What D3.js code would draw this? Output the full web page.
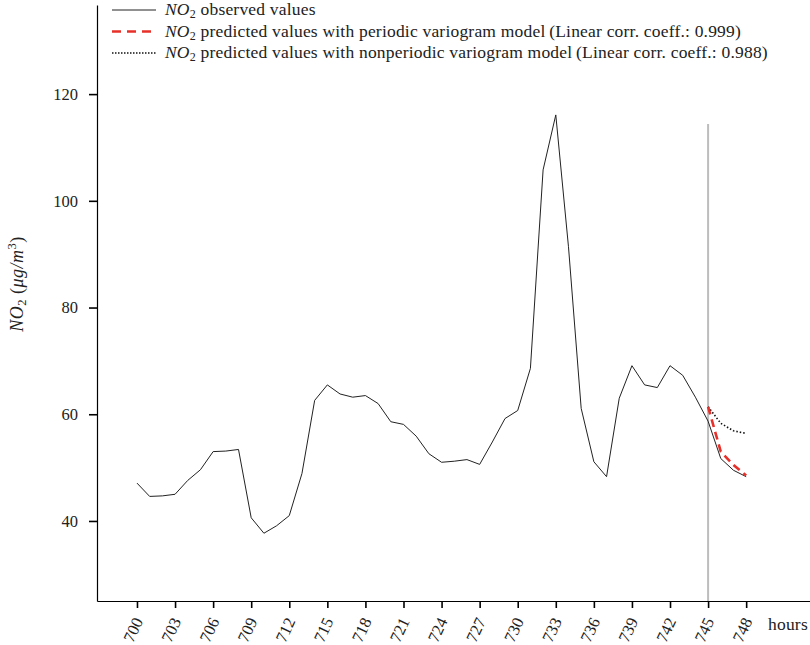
<!DOCTYPE html>
<html>
<head>
<meta charset="utf-8">
<script src="https://cdn.jsdelivr.net/npm/d3@7/dist/d3.min.js"></script>
<style>
  body { margin: 0; background: #fff; }
  svg { display: block; font-family: "Liberation Serif", "DejaVu Serif", serif; }
  svg text { font-family: "Liberation Serif", "DejaVu Serif", serif; }
</style>
</head>
<body>
<svg id="chart" width="810" height="645"></svg>
<script>
// Hourly NO2 concentrations (µg/m³)
const hours = d3.range(700, 749);
const observed = [
  47.1, 44.6, 44.7, 45.0, 47.6, 49.6, 53.0, 53.1, 53.4, 40.6,
  37.7, 39.1, 41.0, 48.9, 62.6, 65.5, 63.8, 63.2, 63.5, 62.0,
  58.6, 58.1, 55.9, 52.6, 51.0, 51.2, 51.5, 50.6, 54.8, 59.2,
  60.7, 68.6, 105.8, 116.1, 91.4, 61.1, 51.1, 48.3, 63.0, 69.1,
  65.5, 65.0, 69.1, 67.3, 63.2, 58.7, 51.7, 49.5, 48.3
];
const predHours = [745, 746, 747, 748];
const predPeriodic = [61.4, 53.0, 50.5, 48.5];
const predNonPeriodic = [61.4, 58.3, 56.9, 56.4];
const xTicks = d3.range(700, 749, 3);
const yTicks = [40, 60, 80, 100, 120];
const forecastStart = 745;
const markerTop = 114.4;

const svg = d3.select("#chart");
const x = d3.scaleLinear().domain([696.85, 753.03]).range([97, 810]);
const y = d3.scaleLinear().domain([25.0, 136.7]).range([601, 5]);

// vertical marker at the forecast origin
svg.append("line")
  .attr("x1", x(forecastStart)).attr("x2", x(forecastStart))
  .attr("y1", y(25.0)).attr("y2", y(markerTop))
  .attr("stroke", "#bdbdbd").attr("stroke-width", 2);

// axes
const xAxis = svg.append("g").attr("transform", "translate(0,601)")
  .call(d3.axisBottom(x).tickValues(xTicks).tickSize(7).tickSizeOuter(0).tickFormat(d3.format("d")))
  .attr("font-family", null).attr("font-size", null);
xAxis.select(".domain").attr("stroke", "#000").attr("stroke-width", 1.2);
xAxis.selectAll(".tick line").attr("stroke", "#000").attr("stroke-width", 1.6);
xAxis.selectAll(".tick text")
  .attr("font-size", 16.5).attr("fill", "#222")
  .attr("text-anchor", "end")
  .attr("dy", 0).attr("y", 0)
  .attr("transform", "translate(6,20) rotate(-65)");

const yAxis = svg.append("g").attr("transform", "translate(97,0)")
  .call(d3.axisLeft(y).tickValues(yTicks).tickSize(8).tickSizeOuter(0).tickFormat(d3.format("d")))
  .attr("font-family", null).attr("font-size", null);
yAxis.select(".domain").attr("stroke", "#000").attr("stroke-width", 1.2);
yAxis.selectAll(".tick line").attr("stroke", "#000").attr("stroke-width", 1.6);
yAxis.selectAll(".tick text").attr("font-size", 16.5).attr("fill", "#222").attr("x", -19);

// axis titles
svg.append("text").attr("x", 768).attr("y", 630).attr("font-size", 17.5)
  .attr("letter-spacing", 0.2).attr("fill", "#222").text("hours");

const yt = svg.append("text").attr("font-size", 18).attr("letter-spacing", 0.5).attr("fill", "#222")
  .attr("text-anchor", "middle")
  .attr("transform", "translate(23,284) rotate(-90)");
yt.append("tspan").attr("font-style", "italic").text("NO");
yt.append("tspan").attr("font-size", 12.5).attr("dy", 3).text("2");
yt.append("tspan").attr("dy", -3).text(" (");
yt.append("tspan").attr("font-style", "italic").text("\u03bcg/m");
yt.append("tspan").attr("font-size", 12.5).attr("dy", -7).text("3");
yt.append("tspan").attr("dy", 7).text(")");

// series
const line = d3.line().x(d => x(d[0])).y(d => y(d[1]));
svg.append("path").datum(hours.map((h, i) => [h, observed[i]]))
  .attr("d", line).attr("fill", "none").attr("stroke", "#222").attr("stroke-width", 1);
svg.append("path").datum(predHours.map((h, i) => [h, predNonPeriodic[i]]))
  .attr("d", line).attr("fill", "none").attr("stroke", "#111").attr("stroke-width", 1.6)
  .attr("stroke-dasharray", "1.5,2");
svg.append("path").datum(predHours.map((h, i) => [h, predPeriodic[i]]))
  .attr("d", line).attr("fill", "none").attr("stroke", "#e8302a").attr("stroke-width", 2.6)
  .attr("stroke-dasharray", "8,5");

// legend
const legend = [
  { text: " observed values", stroke: "#222", width: 1, dash: null },
  { text: " predicted values with periodic variogram model\u2009(Linear corr. coeff.: 0.999)", stroke: "#e8302a", width: 2.6, dash: "9,6" },
  { text: " predicted values with nonperiodic variogram model\u2009(Linear corr. coeff.: 0.988)", stroke: "#111", width: 1.4, dash: "1.5,1.5" }
];
legend.forEach((d, i) => {
  const cy = 10 + i * 21.5;
  svg.append("line").attr("x1", 112).attr("x2", 156).attr("y1", cy).attr("y2", cy)
    .attr("stroke", d.stroke).attr("stroke-width", d.width).attr("stroke-dasharray", d.dash);
  const t = svg.append("text").attr("x", 165).attr("y", cy + 5).attr("font-size", 17.5)
    .attr("letter-spacing", 0.2).attr("fill", "#222");
  t.append("tspan").attr("font-style", "italic").text("NO");
  t.append("tspan").attr("font-size", 12).attr("dy", 3).text("2");
  t.append("tspan").attr("dy", -3).text(d.text);
});
</script>
</body>
</html>
